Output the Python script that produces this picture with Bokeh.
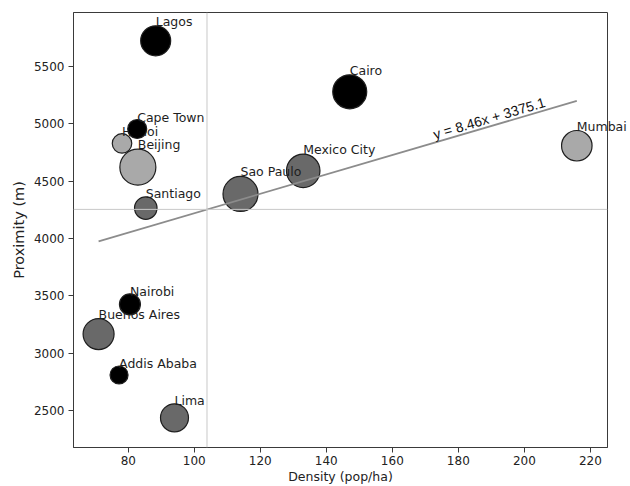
import math
import numpy as np
from bokeh.plotting import figure
from bokeh.models import ColumnDataSource, Range1d, FixedTicker, Span
from bokeh.core.properties import value
from bokeh.embed import file_html
from bokeh.resources import INLINE

# ---------------- data ----------------
cities = ["Lagos", "Cape Town", "Hanoi", "Beijing", "Santiago", "Sao Paulo",
          "Mexico City", "Cairo", "Mumbai", "Nairobi", "Buenos Aires",
          "Addis Ababa", "Lima"]
region = ["Africa", "Africa", "Asia", "Asia", "Latin America", "Latin America",
          "Latin America", "Africa", "Asia", "Africa", "Latin America",
          "Africa", "Latin America"]
density = [88.3, 82.7, 78.1, 82.9, 85.3, 114.0, 133.0, 147.1, 215.9, 80.5,
           71.0, 77.2, 94.0]
proximity = [5726, 4956, 4830, 4623, 4266, 4389, 4591, 5281, 4810, 3426,
             3166, 2809, 2435]
bubble = [30, 19, 19.5, 36, 22.5, 35, 33.5, 34, 30.5, 21, 31, 18, 28]

x_ticks = [80, 100, 120, 140, 160, 180, 200, 220]
y_ticks = [2500, 3000, 3500, 4000, 4500, 5000, 5500]

fit_slope = 8.46
fit_intercept = 3375.1
fit_label = "y = 8.46x + 3375.1"

region_order = ["Asia", "Latin America", "Africa"]
region_colors = {"Asia": "darkgray", "Latin America": "dimgray", "Africa": "black"}

# ---------------- figure ----------------
X0, X1 = 63.4, 225.2
Y0, Y1 = 2176, 5973
FW, FH = 534, 436
ML, MR, MT, MB = 73, 23, 12, 38

p = figure(width=ML + FW + MR, height=MT + FH + MB,
           x_range=Range1d(X0, X1), y_range=Range1d(Y0, Y1),
           output_backend="svg", toolbar_location=None,
           min_border_left=ML, min_border_right=MR,
           min_border_top=MT, min_border_bottom=MB)
p.background_fill_color = "white"
p.border_fill_color = "white"
p.outline_line_color = "#3a3a3a"
p.outline_line_width = 1
p.xgrid.visible = False
p.ygrid.visible = False

for ax in (p.xaxis[0], p.yaxis[0]):
    ax.axis_line_color = "#3a3a3a"
    ax.major_tick_line_color = "#3a3a3a"
    ax.major_tick_out = 5
    ax.major_tick_in = 0
    ax.minor_tick_out = 0
    ax.minor_tick_in = 0
    ax.major_label_text_font = "DejaVu Sans"
    ax.major_label_text_font_size = "12px"
    ax.major_label_text_color = "#222222"
    ax.axis_label_text_font = "DejaVu Sans"
    ax.axis_label_text_font_style = "normal"
    ax.axis_label_text_color = "#222222"

p.xaxis.ticker = FixedTicker(ticks=x_ticks)
p.yaxis.ticker = FixedTicker(ticks=y_ticks)
p.xaxis.axis_label = "Density (pop/ha)"
p.yaxis.axis_label = "Proximity (m)"
p.xaxis.axis_label_text_font_size = "12.5px"
p.yaxis.axis_label_text_font_size = "14.5px"
p.xaxis.major_label_standoff = 3
p.yaxis.major_label_standoff = 4
p.xaxis.axis_label_standoff = 1
p.yaxis.axis_label_standoff = 4

# mean lines
p.add_layout(Span(location=float(np.mean(density)), dimension="height",
                  line_color="#c8c8c8", line_width=1))
p.add_layout(Span(location=float(np.mean(proximity)), dimension="width",
                  line_color="#c8c8c8", line_width=1))

# bubbles and labels, group by group (later groups cover earlier labels)
for reg in region_order:
    idx = [i for i, r in enumerate(region) if r == reg]
    src = ColumnDataSource(dict(
        x=[density[i] for i in idx],
        y=[proximity[i] for i in idx],
        size=[bubble[i] for i in idx],
        name=[cities[i] for i in idx],
        yoff=[-0.63 * bubble[i] for i in idx],
    ))
    p.scatter(x="x", y="y", size="size", source=src,
              fill_color=region_colors[reg], line_color="#1e1e1e",
              line_width=1.2, level="annotation")
    p.text(x="x", y="y", text="name", source=src, y_offset="yoff",
           text_font=value("DejaVu Sans"), text_font_size=value("12.5px"),
           text_color="#1e1e1e", text_align="left",
           text_baseline="alphabetic", level="annotation")

# regression line
xmin, xmax = min(density), max(density)
p.line(x=[xmin, xmax], y=[fit_slope * xmin + fit_intercept,
                          fit_slope * xmax + fit_intercept],
       line_color="#8c8c8c", line_width=1.8, level="annotation")

px_per_x = FW / (X1 - X0)
px_per_y = FH / (Y1 - Y0)
angle = math.atan(fit_slope * px_per_y / px_per_x)
lx = xmin + 0.705 * (xmax - xmin)
p.text(x=[lx], y=[fit_slope * lx + fit_intercept], text=[fit_label],
       angle=angle, text_font=value("Liberation Sans"),
       text_font_size=value("14px"), text_color="#111111",
       text_align="left", text_baseline="bottom", level="annotation")

open("out.html", "w").write(file_html(p, INLINE))
